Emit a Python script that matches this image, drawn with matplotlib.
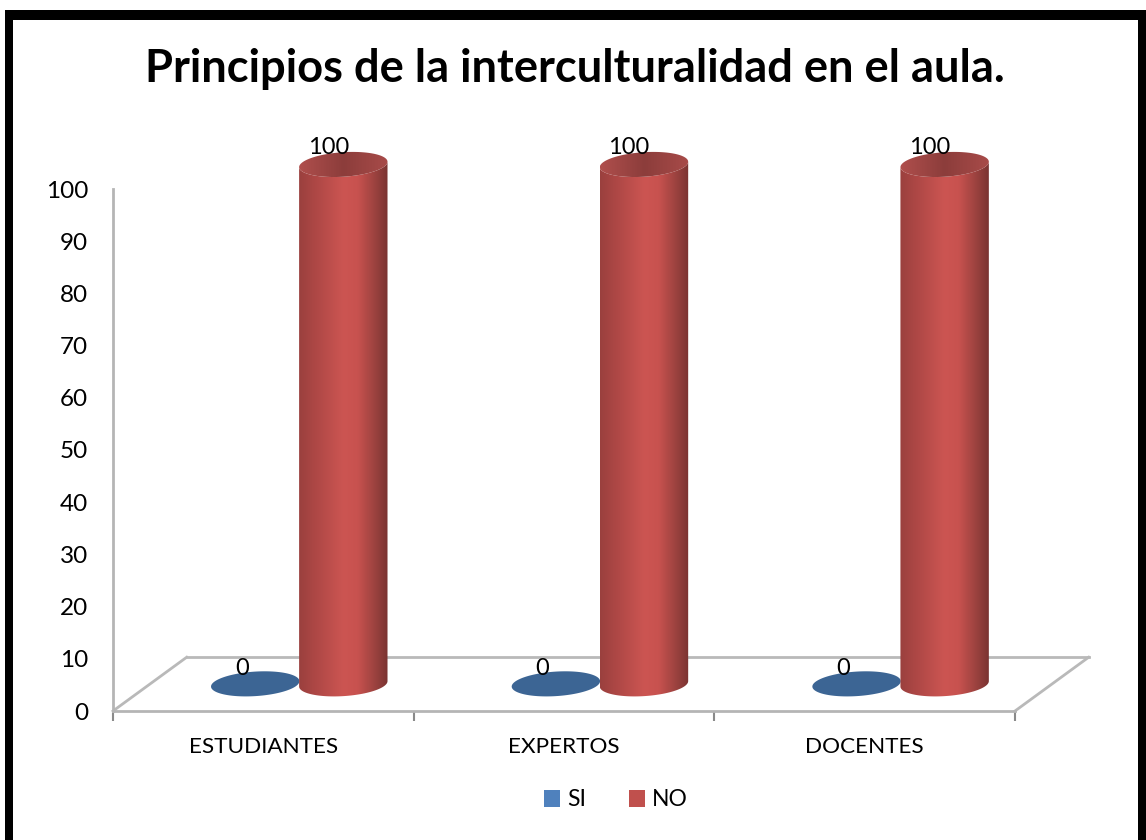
import numpy as np
import matplotlib
matplotlib.use("Agg")
import matplotlib.pyplot as plt
from matplotlib.colors import LinearSegmentedColormap
from matplotlib.patches import PathPatch, Rectangle
from matplotlib.path import Path

TITLE = "Principios de la interculturalidad en el aula."
CATEGORIES = ["ESTUDIANTES", "EXPERTOS", "DOCENTES"]
SERIES = ["SI", "NO"]
SI_VALUES = [0, 0, 0]
NO_VALUES = [100, 100, 100]
Y_TICKS = list(range(0, 101, 10))

W, H = 1146, 840
plt.rcParams["font.family"] = ["Lato", "DejaVu Sans"]
fig = plt.figure(figsize=(W / 100, H / 100), dpi=100)

# black frame (open at the bottom)
bg = fig.add_axes([0, 0, 1, 1]); bg.set_xlim(0, W); bg.set_ylim(H, 0); bg.axis("off")
for (x, y, w, h) in [(5, 10, 8, 830), (5, 10, 1141, 10), (1138, 10, 8, 830)]:
    bg.add_patch(Rectangle((x, y), w, h, fc="black", ec="none"))

L, R, T, B = 113, 1015, 189, 711
ax = fig.add_axes([L / W, 1 - B / H, (R - L) / W, (B - T) / H])
ax.set_xlim(-0.5, 2.5); ax.set_ylim(0, 100)
ax.patch.set_alpha(0)
for s in ["top", "right"]:
    ax.spines[s].set_visible(False)
for s in ["left", "bottom"]:
    ax.spines[s].set_color("#b5b5b5"); ax.spines[s].set_linewidth(2)
ax.set_yticks(Y_TICKS)
ax.set_yticklabels([str(v) for v in Y_TICKS], fontsize=17.5, color="black")
ax.tick_params(axis="y", length=0, pad=18)
ax.set_xticks(np.arange(len(CATEGORIES) + 1) - 0.5, minor=True)
ax.tick_params(axis="x", which="minor", length=7, color="#8a8a8a", width=1.5)
ax.set_xticks(range(len(CATEGORIES)))
ax.set_xticklabels(CATEGORIES, fontsize=16.2)
ax.tick_params(axis="x", which="major", length=0, pad=19)

# floor (depth perspective)
DX, DY = 0.245, 10.3
fk = dict(color="#b9b9b9", lw=2, clip_on=False, zorder=1)
ax.plot([-0.5, -0.5 + DX], [0, DY], **fk)
ax.plot([-0.5 + DX, 2.5 + DX], [DY, DY], **fk)
ax.plot([2.5, 2.5 + DX], [0, DY], **fk)

# cylinders
A, Bb, TILT = 0.147, 2.35, 3.5
BASE, SCALE = 5.2, 0.995
OFF_SI, OFF_NO = -0.027, 0.266
t = np.linspace(0, 2 * np.pi, 121)
body_cmap = LinearSegmentedColormap.from_list("b", [(0, "#9a403e"), (0.15, "#aa4644"), (0.5, "#cc5552"),
                                                     (0.66, "#c8524f"), (0.88, "#96403d"), (1, "#7a3331")])
top_cmap = LinearSegmentedColormap.from_list("t", ["#b04f4d", "#8c3d3b", "#a84b49"])


def ellipse(cx, cy):
    return np.column_stack([cx + A * np.cos(t), cy + Bb * np.sin(t) + TILT * A * np.cos(t)])


def clipped_gradient(verts, cmap, extent, z):
    clip = PathPatch(Path(verts), transform=ax.transData, fc="none", ec="none")
    ax.add_patch(clip)
    im = ax.imshow(np.linspace(0, 1, 256)[None, :], cmap=cmap, aspect="auto", zorder=z, extent=extent)
    im.set_clip_box(fig.bbox)
    im.set_clip_path(clip)


def cylinder(cx, value):
    y0, y1 = BASE, BASE + value * SCALE
    a = np.linspace(np.pi, 2 * np.pi, 60)
    low = np.column_stack([cx + A * np.cos(a), y0 + Bb * np.sin(a) + TILT * A * np.cos(a)])
    up = np.column_stack([cx + A * np.cos(a[::-1]), y1 + Bb * np.sin(a[::-1]) + TILT * A * np.cos(a[::-1])])
    clipped_gradient(np.vstack([low, up, low[:1]]), body_cmap, [cx - A, cx + A, y0 - 5, y1 + 5], 3)
    clipped_gradient(ellipse(cx, y1), top_cmap, [cx - A, cx + A, y1 - 5, y1 + 5], 4)


for i, (si, no) in enumerate(zip(SI_VALUES, NO_VALUES)):
    ax.add_patch(PathPatch(Path(ellipse(i + OFF_SI, BASE + si)), fc="#3c6594", ec="none", zorder=2, clip_on=False))
    cylinder(i + OFF_NO, no)
    ax.text(i + OFF_SI - 0.067, BASE + si + 1.0, str(si), fontsize=17, ha="left", va="bottom", zorder=6, clip_on=False)
    ax.text(i + OFF_NO - 0.05, BASE + no * SCALE + 1.2, str(no), fontsize=17, ha="center", va="bottom", zorder=6, clip_on=False)
ax.set_xlim(-0.5, 2.5); ax.set_ylim(0, 100)

fig.text(575 / W, 1 - 69 / H, TITLE, fontsize=32.6, fontweight="bold", ha="center", va="center")

# legend
h = [Rectangle((0, 0), 1, 1, fc=c) for c in ["#4f81bd", "#c0504d"]]
fig.legend(h, SERIES, loc="center", bbox_to_anchor=(616 / W, 1 - 800 / H), ncol=2, frameon=False,
           fontsize=16.5, handlelength=0.7, handleheight=0.7, handletextpad=0.3, columnspacing=1.9)

fig.savefig("out.png", dpi=100)
